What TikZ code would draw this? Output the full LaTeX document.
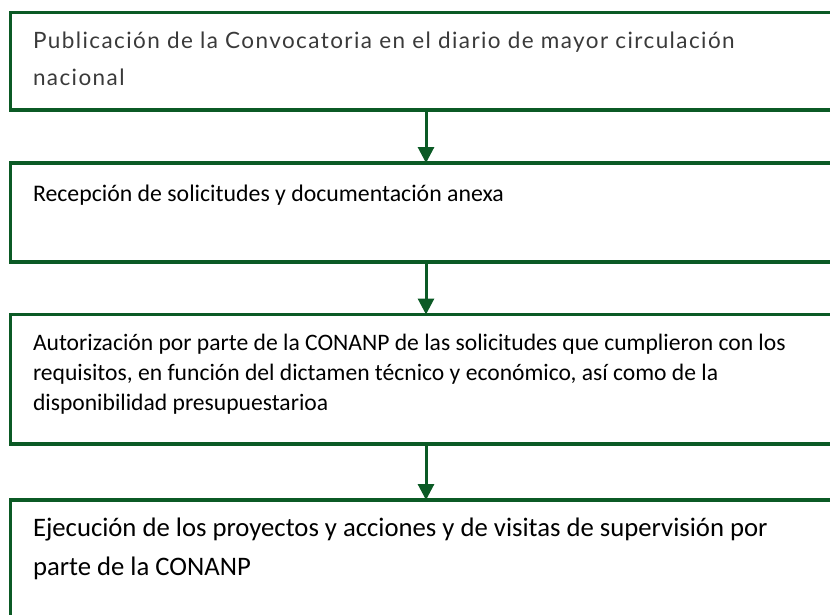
\documentclass[tikz,border=0pt]{standalone}
\usepackage{fontspec}
\setmainfont{Carlito}
\newfontfamily\latofont[LetterSpace=6.3]{Lato}
\usetikzlibrary{arrows.meta,positioning}
\definecolor{Pine}{HTML}{0B5A25}
\definecolor{Graphite}{HTML}{3A3A3A}

\begin{document}
\begin{tikzpicture}[x=1pt,y=-1pt,
  stepbox/.style={draw=Pine, line width=3.5pt, minimum width=831pt, inner sep=0pt, outer sep=0pt, anchor=north west},
  steptext/.style={anchor=north west, inner sep=0pt, outer sep=0pt, align=left},
  flow/.style={draw=Pine, line width=3pt, -{Triangle[width=16pt,length=16pt]}}]
  \useasboundingbox (0,0) rectangle (830,614);
  % the four steps
  \node[stepbox, minimum height=97.5pt] (pub) at (10.5,12.5) {};
  \node[stepbox, minimum height=99pt] (recep) at (10.5,163) {};
  \node[stepbox, minimum height=129.5pt] (autor) at (10.5,314.5) {};
  \node[stepbox, minimum height=150pt] (ejec) at (10.5,500) {};
  % texts
  \node[steptext, font=\latofont\fontsize{22.5}{37}\selectfont, text=Graphite] (pub-t)
    at ([shift={(22.5,19.5)}]pub.north west)
    {Publicación de la Convocatoria en el diario de mayor circulación\\nacional};
  \node[steptext, font=\fontsize{23.8}{29}\selectfont] (recep-t)
    at ([shift={(22.5,21.5)}]recep.north west)
    {Recepción de solicitudes y documentación anexa};
  \node[steptext, font=\fontsize{23.6}{30}\selectfont] (autor-t)
    at ([shift={(22.5,20)}]autor.north west)
    {Autorización por parte de la CONANP de las solicitudes que cumplieron con los\\
     requisitos, en función del dictamen técnico y económico, así como de la\\
     disponibilidad presupuestarioa};
  \node[steptext, font=\fontsize{26.7}{39}\selectfont] (ejec-t)
    at ([shift={(22.5,18)}]ejec.north west)
    {Ejecución de los proyectos y acciones y de visitas de supervisión por\\
     parte de la CONANP};
  % arrows
  \draw[flow] (pub.south) -- (recep.north);
  \draw[flow] (recep.south) -- (autor.north);
  \draw[flow] (autor.south) -- (ejec.north);
\end{tikzpicture}
\end{document}
